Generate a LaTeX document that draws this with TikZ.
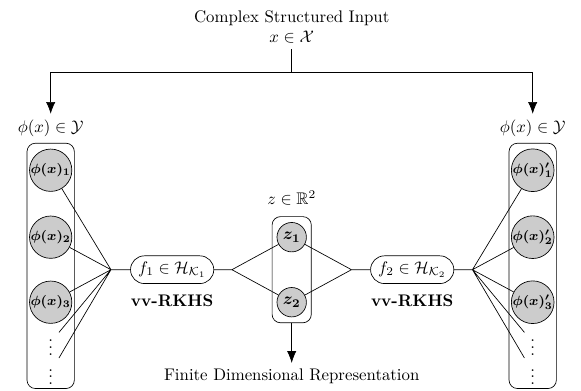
\documentclass[tikz,border=0pt]{standalone}
\usepackage{amsmath,amssymb,bm}
\usetikzlibrary{arrows.meta,shapes.misc}

\begin{document}
\begin{tikzpicture}[
  neuron/.style={circle,draw,fill=black!20,inner sep=0pt,minimum size=22.5pt,font=\footnotesize},
  zneuron/.style={circle,draw,fill=black!20,inner sep=0pt,minimum size=17.5pt},
  layer/.style={draw,rounded corners=5pt,minimum width=0.99cm},
  map/.style={draw,rounded rectangle,minimum height=16.5pt,inner xsep=3pt},
  tip/.style={-{Latex[length=7pt,width=5.5pt]}}
]
\useasboundingbox (0,0) rectangle (12.15,8.16);

% ( input on top, split into the two copies of the output space )
\path
(6.1,7.6) node[align=center](inp){Complex Structured Input\\ $x\in\mathcal{X}$}
(6.1,6.65) coordinate(split)
(1.06,5.48) node(yl){$\phi(x)\in\mathcal{Y}$}
(11.14,5.48) node(yr){$\phi(x)\in\mathcal{Y}$};
\draw (inp) -- (split);
\draw[tip] (split) -| (yl);
\draw[tip] (split) -| (yr);

% ( left output layer )
\node[layer,minimum height=5.13cm](bl) at (1.06,2.6){};
\path
(1.06,4.60) node[neuron](l1){$\bm{\phi(x)_1}$}
(1.06,3.20) node[neuron](l2){$\bm{\phi(x)_2}$}
(1.06,1.84) node[neuron](l3){$\bm{\phi(x)_3}$}
(1.06,1.00) node(l4){$\vdots$}
(1.06,0.38) node(l5){$\vdots$};

% ( right output layer )
\node[layer,minimum height=5.13cm](br) at (11.14,2.6){};
\path
(11.14,4.60) node[neuron](r1){$\bm{\phi(x)'_1}$}
(11.14,3.20) node[neuron](r2){$\bm{\phi(x)'_2}$}
(11.14,1.84) node[neuron](r3){$\bm{\phi(x)'_3}$}
(11.14,1.00) node(r4){$\vdots$}
(11.14,0.38) node(r5){$\vdots$};

% ( latent code z )
\node[layer,minimum width=0.82cm,minimum height=2.22cm](bz) at (6.1,2.52){};
\path
(6.1,4.02) node(zl){$z\in\mathbb{R}^2$}
(6.1,3.20) node[zneuron](z1){$\bm{z_1}$}
(6.1,1.84) node[zneuron](z2){$\bm{z_2}$}
(6.1,0.29) node(fin){Finite Dimensional Representation};
\draw[tip] (bz) -- (fin);

% ( the two maps )
\path
(3.60,2.52) node[map](f1){$f_1\in\mathcal{H}_{\mathcal{K}_1}$}
(8.62,2.52) node[map](f2){$f_2\in\mathcal{H}_{\mathcal{K}_2}$}
(3.60,1.88) node(v1){\textbf{vv-RKHS}}
(8.62,1.88) node(v2){\textbf{vv-RKHS}};

\path[shape=coordinate]
(2.32,2.52) coordinate(fl) (4.85,2.52) coordinate(fm1)
(7.35,2.52) coordinate(fm2) (9.88,2.52) coordinate(fr);

\draw (fl) -- (l1) (fl) -- (l2) (fl) -- (l3) (fl) -- (l4) (fl) -- (l5);
\draw (fl) -- (f1) -- (fm1);
\draw (fm1) -- (z1) (fm1) -- (z2);
\draw (z1) -- (fm2) (z2) -- (fm2);
\draw (fm2) -- (f2) -- (fr);
\draw (fr) -- (r1) (fr) -- (r2) (fr) -- (r3) (fr) -- (r4) (fr) -- (r5);
\end{tikzpicture}
\end{document}
